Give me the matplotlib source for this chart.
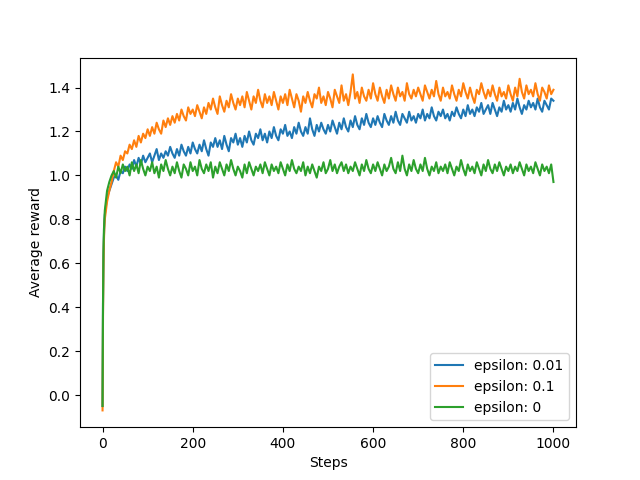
import matplotlib
matplotlib.use("Agg")
import matplotlib.pyplot as plt

# x positions: first few steps, then every 5th step up to 1000
steps = list(range(0, 5)) + list(range(5, 1001, 5))

reward_eps_001 = [
    -0.05, 0.40, 0.62, 0.72, 0.78,
    0.82, 0.90, 0.93, 0.96, 0.99, 1.00, 0.98, 1.02, 1.01, 1.04,
    1.02, 1.05, 1.03, 1.07, 1.04, 1.08, 1.05, 1.09, 1.06, 1.08,
    1.10, 1.06, 1.09, 1.12, 1.07, 1.10, 1.08, 1.11, 1.09, 1.13,
    1.10, 1.08, 1.12, 1.09, 1.14, 1.11, 1.09, 1.13, 1.10, 1.15,
    1.12, 1.10, 1.14, 1.11, 1.16, 1.12, 1.09, 1.15, 1.13, 1.17,
    1.13, 1.16, 1.12, 1.18, 1.14, 1.11, 1.17, 1.15, 1.19, 1.14,
    1.17, 1.13, 1.18, 1.15, 1.20, 1.16, 1.14, 1.19, 1.17, 1.21,
    1.16, 1.19, 1.15, 1.20, 1.17, 1.22, 1.18, 1.16, 1.21, 1.19,
    1.23, 1.18, 1.20, 1.17, 1.22, 1.19, 1.24, 1.20, 1.18, 1.22,
    1.19, 1.26, 1.21, 1.18, 1.23, 1.20, 1.24, 1.21, 1.19, 1.23,
    1.20, 1.25, 1.22, 1.19, 1.24, 1.21, 1.26, 1.22, 1.20, 1.25,
    1.22, 1.27, 1.23, 1.21, 1.26, 1.23, 1.28, 1.24, 1.22, 1.26,
    1.23, 1.27, 1.24, 1.22, 1.28, 1.25, 1.23, 1.27, 1.24, 1.29,
    1.25, 1.23, 1.28, 1.26, 1.24, 1.29, 1.25, 1.27, 1.24, 1.28,
    1.26, 1.30, 1.25, 1.28, 1.26, 1.31, 1.27, 1.25, 1.29, 1.27,
    1.30, 1.26, 1.28, 1.25, 1.29, 1.27, 1.31, 1.28, 1.26, 1.30,
    1.27, 1.32, 1.28, 1.30, 1.27, 1.31, 1.29, 1.33, 1.28, 1.30,
    1.32, 1.28, 1.33, 1.30, 1.27, 1.31, 1.29, 1.34, 1.30, 1.32,
    1.29, 1.33, 1.30, 1.35, 1.31, 1.28, 1.32, 1.30, 1.34, 1.31,
    1.33, 1.30, 1.35, 1.31, 1.29, 1.34, 1.32, 1.30, 1.35, 1.34,
]

reward_eps_01 = [
    -0.07, 0.35, 0.58, 0.70, 0.76,
    0.80, 0.88, 0.93, 0.97, 1.02, 1.06, 1.04, 1.09, 1.07, 1.11,
    1.10, 1.14, 1.12, 1.16, 1.13, 1.18, 1.15, 1.19, 1.17, 1.21,
    1.18, 1.22, 1.19, 1.24, 1.21, 1.19, 1.25, 1.22, 1.26, 1.23,
    1.27, 1.24, 1.28, 1.25, 1.30, 1.27, 1.25, 1.31, 1.28, 1.30,
    1.27, 1.32, 1.29, 1.26, 1.31, 1.28, 1.33, 1.30, 1.35, 1.31,
    1.28, 1.36, 1.32, 1.29, 1.34, 1.31, 1.37, 1.33, 1.30, 1.35,
    1.32, 1.36, 1.31, 1.38, 1.34, 1.30, 1.36, 1.33, 1.39, 1.34,
    1.31, 1.37, 1.33, 1.36, 1.32, 1.38, 1.34, 1.30, 1.36, 1.33,
    1.37, 1.32, 1.39, 1.35, 1.31, 1.37, 1.34, 1.29, 1.36, 1.33,
    1.38, 1.34, 1.31, 1.37, 1.35, 1.40, 1.33, 1.36, 1.32, 1.38,
    1.35, 1.31, 1.39, 1.36, 1.33, 1.41, 1.34, 1.37, 1.32, 1.38,
    1.46, 1.35, 1.38, 1.33, 1.40, 1.36, 1.34, 1.39, 1.35, 1.42,
    1.37, 1.34, 1.40, 1.36, 1.33, 1.39, 1.35, 1.41, 1.37, 1.34,
    1.40, 1.36, 1.38, 1.34, 1.42, 1.37, 1.35, 1.39, 1.36, 1.40,
    1.37, 1.34, 1.41, 1.38, 1.35, 1.39, 1.36, 1.43, 1.37, 1.34,
    1.40, 1.36, 1.38, 1.35, 1.41, 1.37, 1.34, 1.39, 1.36, 1.42,
    1.38, 1.35, 1.40, 1.36, 1.33, 1.39, 1.37, 1.42, 1.38, 1.35,
    1.39, 1.36, 1.41, 1.37, 1.34, 1.40, 1.36, 1.38, 1.35, 1.41,
    1.37, 1.34, 1.40, 1.36, 1.44, 1.38, 1.35, 1.41, 1.37, 1.39,
    1.36, 1.42, 1.37, 1.34, 1.40, 1.38, 1.35, 1.41, 1.37, 1.39,
]

reward_eps_0 = [
    -0.05, 0.42, 0.65, 0.75, 0.80,
    0.84, 0.93, 0.97, 1.00, 1.02, 0.99, 1.04, 1.01, 1.05, 1.02,
    1.04, 1.00, 1.06, 1.02, 1.05, 1.01, 1.07, 1.03, 1.00, 1.04,
    1.02, 1.06, 1.01, 1.04, 0.99, 1.05, 1.02, 1.07, 1.03, 1.00,
    1.04, 1.01, 1.06, 1.02, 0.99, 1.05, 1.03, 1.00, 1.06, 1.02,
    1.04, 1.00, 1.07, 1.03, 1.01, 1.05, 1.02, 1.06, 0.99, 1.04,
    1.01, 1.06, 1.03, 1.00, 1.05, 1.02, 1.07, 1.03, 1.00, 1.04,
    1.02, 0.99, 1.05, 1.01, 1.06, 1.03, 1.00, 1.04, 1.02, 1.05,
    1.01, 1.06, 1.03, 1.00, 1.05, 1.02, 1.04, 1.01, 1.06, 1.03,
    1.00, 1.05, 1.02, 1.07, 1.03, 1.01, 1.04, 1.02, 1.06, 1.00,
    1.04, 1.01, 1.05, 1.02, 0.99, 1.04, 1.02, 1.06, 1.01, 1.03,
    1.07, 1.02, 1.05, 1.01, 1.04, 1.06, 1.02, 1.05, 1.01, 1.04,
    1.02, 1.06, 1.03, 1.00, 1.05, 1.02, 1.07, 1.03, 1.01, 1.05,
    1.02, 1.06, 1.03, 1.00, 1.05, 1.02, 1.04, 1.08, 1.03, 1.01,
    1.06, 1.02, 1.09, 1.03, 1.00, 1.05, 1.02, 1.07, 1.03, 1.01,
    1.05, 1.02, 1.08, 1.03, 1.00, 1.04, 1.02, 1.06, 1.01, 1.04,
    1.02, 1.05, 1.01, 1.06, 1.03, 1.00, 1.04, 1.02, 1.07, 1.03,
    1.00, 1.05, 1.02, 1.04, 1.01, 1.06, 1.03, 1.00, 1.05, 1.02,
    1.07, 1.03, 1.01, 1.05, 1.02, 1.06, 1.03, 1.00, 1.04, 1.02,
    1.05, 1.01, 1.04, 1.02, 1.06, 1.03, 1.00, 1.05, 1.02, 1.04,
    1.01, 1.06, 1.03, 1.00, 1.05, 1.02, 1.04, 1.01, 1.05, 0.97,
]

labels = ["epsilon: 0.01", "epsilon: 0.1", "epsilon: 0"]


def main():
    fig, ax = plt.subplots(figsize=(6.4, 4.8), dpi=100)
    for values, label in zip([reward_eps_001, reward_eps_01, reward_eps_0], labels):
        ax.plot(steps, values, label=label)
    ax.set_xlabel("Steps")
    ax.set_ylabel("Average reward")
    ax.legend(loc="lower right")
    fig.savefig("out.png")


if __name__ == "__main__":
    main()
